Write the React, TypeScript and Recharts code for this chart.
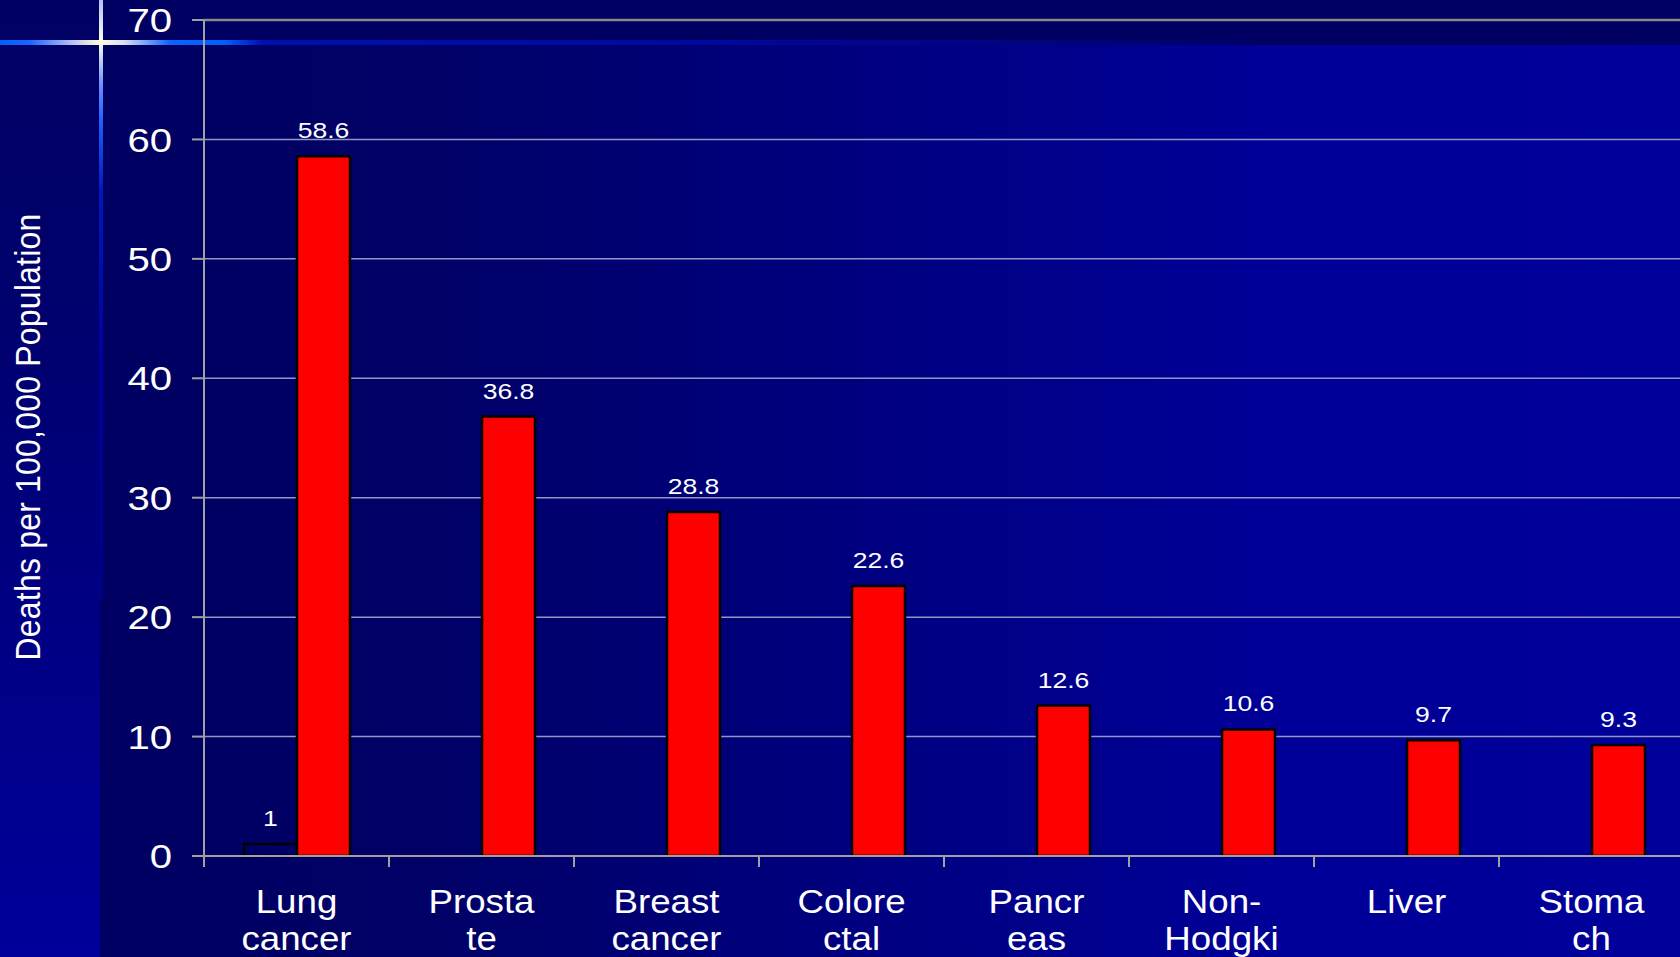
import React from 'react';
import { BarChart, Bar, XAxis, YAxis, CartesianGrid, LabelList, ReferenceLine, Label } from 'recharts';

// Cancer death rates, deaths per 100,000 population
const categories = ['Lung cancer', 'Prostate', 'Breast cancer', 'Colorectal', 'Pancreas', 'Non-Hodgkin', 'Liver', 'Stomach'];
const categoryLines = [
  ['Lung', 'cancer'],
  ['Prosta', 'te'],
  ['Breast', 'cancer'],
  ['Colore', 'ctal'],
  ['Pancr', 'eas'],
  ['Non-', 'Hodgki'],
  ['Liver'],
  ['Stoma', 'ch'],
];
const outlineSeries: (number | null)[] = [1, null, null, null, null, null, null, null];
const deathRates = [58.6, 36.8, 28.8, 22.6, 12.6, 10.6, 9.7, 9.3];
const yTicks = [0, 10, 20, 30, 40, 50, 60, 70];
const yTitle = 'Deaths per 100,000 Population';

const data = categories.map((category, i) => ({
  category,
  outline: outlineSeries[i],
  rate: deathRates[i],
}));

const CHART_W = 1688;
const CHART_H = 957;
const MARGIN = { top: 20, right: 4, bottom: 0, left: 0 };
const Y_AXIS_W = 204;
const X_AXIS_H = 101;
const FONT = '"Liberation Sans", Arial, Helvetica, sans-serif';
const AXIS_GREY = '#a0a0a0';
const NUM_STRETCH = 1.18;
const CAT_STRETCH = 1.08;

const fallbackHalfBand = (CHART_W - MARGIN.left - MARGIN.right - Y_AXIS_W) / categories.length / 2;

const CategoryTick = (props: any) => {
  const { x, y, payload, index } = props;
  const half = (payload && payload.offset) || fallbackHalfBand;
  const lines = categoryLines[index] || [];
  const last = index === categories.length - 1;
  return (
    <g>
      <line x1={x - half} x2={x - half} y1={y} y2={y + 11} stroke={AXIS_GREY} strokeWidth={2} />
      {last && <line x1={x + half} x2={x + half} y1={y} y2={y + 11} stroke={AXIS_GREY} strokeWidth={2} />}
      <text
        transform={`translate(${x} ${y}) scale(${CAT_STRETCH} 1)`}
        textAnchor="middle"
        fill="#ffffff"
        fontSize={34}
        fontFamily={FONT}
      >
        {lines.map((l, i) => (
          <tspan key={i} x={0} y={57 + i * 37}>
            {l}
          </tspan>
        ))}
      </text>
    </g>
  );
};

const ValueTick = (props: any) => {
  const { x, y, payload } = props;
  return (
    <text
      transform={`translate(${x} ${y}) scale(${NUM_STRETCH} 1)`}
      x={0}
      y={0}
      dy="0.355em"
      textAnchor="end"
      fill="#ffffff"
      fontSize={34}
      fontFamily={FONT}
    >
      {payload.value}
    </text>
  );
};

const BarValue = (props: any) => {
  const { x, y, width, value } = props;
  if (value === null || value === undefined) return null;
  const cx = Number(x) + Number(width) / 2;
  const by = Number(y) - 18;
  return (
    <text
      transform={`translate(${cx} ${by}) scale(${NUM_STRETCH} 1)`}
      x={0}
      y={0}
      textAnchor="middle"
      fill="#ffffff"
      fontSize={22.5}
      fontFamily={FONT}
    >
      {value}
    </text>
  );
};

const YTitle = (props: any) => {
  const vb = props.viewBox || { x: 0, y: MARGIN.top, width: Y_AXIS_W, height: 836 };
  const tx = vb.x + 40;
  const ty = vb.y + vb.height / 2 - 1;
  return (
    <text
      transform={`translate(${tx} ${ty}) rotate(-90) scale(1 1.12)`}
      x={0}
      y={0}
      textAnchor="middle"
      fill="#ffffff"
      fontSize={32}
      letterSpacing={0.2}
      fontFamily={FONT}
    >
      {yTitle}
    </text>
  );
};

const Backdrop = () => (
  <svg width={1680} height={957} style={{ position: 'absolute', left: 0, top: 0 }}>
    <defs>
      <linearGradient id="bgMain" gradientUnits="userSpaceOnUse" x1="100" y1="0" x2="1680" y2="0">
        <stop offset="0" stopColor="#000062" />
        <stop offset="0.2" stopColor="#000066" />
        <stop offset="0.75" stopColor="#000098" />
        <stop offset="1" stopColor="#00009a" />
      </linearGradient>
      <linearGradient id="bgStrip" x1="0" y1="0" x2="0" y2="1">
        <stop offset="0" stopColor="#000064" />
        <stop offset="0.3" stopColor="#00006c" />
        <stop offset="1" stopColor="#00009a" />
      </linearGradient>
      <linearGradient id="hGlow" gradientUnits="userSpaceOnUse" x1="0" y1="0" x2="1250" y2="0">
        <stop offset="0" stopColor="#0060ff" />
        <stop offset="0.024" stopColor="#1a66ff" />
        <stop offset="0.06" stopColor="#c0c8f0" />
        <stop offset="0.08" stopColor="#ffffe0" />
        <stop offset="0.1" stopColor="#d8dcf0" />
        <stop offset="0.136" stopColor="#0a64ff" />
        <stop offset="0.18" stopColor="#0060ff" />
        <stop offset="0.21" stopColor="#0010b0" />
        <stop offset="0.56" stopColor="#0008a0" />
        <stop offset="1" stopColor="#000066" />
      </linearGradient>
      <linearGradient id="vGlow" gradientUnits="userSpaceOnUse" x1="0" y1="0" x2="0" y2="600">
        <stop offset="0" stopColor="#b0c0ff" />
        <stop offset="0.07" stopColor="#ffffe8" />
        <stop offset="0.14" stopColor="#7090ff" />
        <stop offset="0.2" stopColor="#2060ff" />
        <stop offset="0.32" stopColor="#0018b8" />
        <stop offset="0.6" stopColor="#0000a0" />
        <stop offset="1" stopColor="#000080" />
      </linearGradient>
    </defs>
    <rect x={0} y={0} width={1680} height={957} fill="#000062" />
    <rect x={0} y={0} width={100} height={957} fill="url(#bgStrip)" />
    <rect x={100} y={45} width={1580} height={912} fill="url(#bgMain)" />
    <rect x={0} y={40} width={1250} height={5} fill="url(#hGlow)" />
    <rect x={99} y={0} width={4} height={600} fill="url(#vGlow)" />
  </svg>
);

export default function App() {
  return (
    <div
      style={{
        position: 'fixed',
        left: 0,
        top: 0,
        width: 1680,
        height: 957,
        overflow: 'hidden',
        fontFamily: FONT,
      }}
    >
      <Backdrop />
      <div style={{ position: 'absolute', left: 0, top: 0 }}>
        <BarChart
          width={CHART_W}
          height={CHART_H}
          data={data}
          margin={MARGIN}
          barCategoryGap={40}
          barGap={0}
        >
          <CartesianGrid vertical={false} stroke="#9494c4" strokeWidth={1.5} />
          <XAxis
            dataKey="category"
            height={X_AXIS_H}
            interval={0}
            tickLine={false}
            tickSize={0}
            tickMargin={0}
            axisLine={{ stroke: AXIS_GREY, strokeWidth: 2 }}
            tick={<CategoryTick />}
          />
          <YAxis
            type="number"
            domain={[0, 70]}
            ticks={yTicks}
            width={Y_AXIS_W}
            tickSize={12}
            tickMargin={20}
            tickLine={{ stroke: AXIS_GREY, strokeWidth: 2 }}
            axisLine={{ stroke: AXIS_GREY, strokeWidth: 2 }}
            tick={<ValueTick />}
          >
            <Label content={<YTitle />} />
          </YAxis>
          <ReferenceLine y={70} stroke="#888888" strokeWidth={2.5} />
          <Bar dataKey="outline" fill="none" stroke="#000000" strokeWidth={2.5} isAnimationActive={false}>
            <LabelList dataKey="outline" content={<BarValue />} />
          </Bar>
          <Bar dataKey="rate" fill="#ff0000" stroke="#000000" strokeWidth={2.5} isAnimationActive={false}>
            <LabelList dataKey="rate" content={<BarValue />} />
          </Bar>
        </BarChart>
      </div>
    </div>
  );
}
